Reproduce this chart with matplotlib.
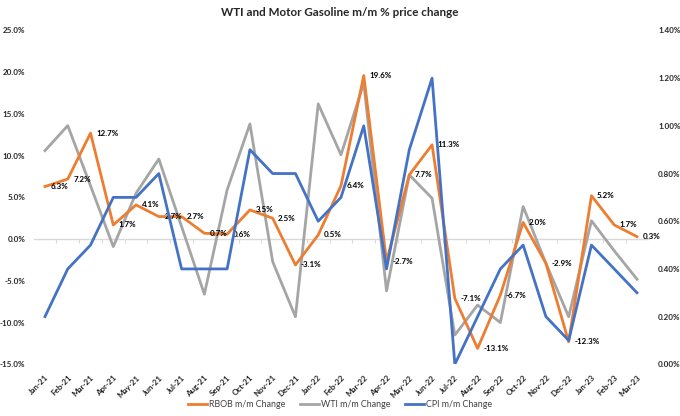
import matplotlib
matplotlib.use("Agg")
import matplotlib.pyplot as plt
from matplotlib.ticker import FuncFormatter, FixedLocator

plt.rcParams['font.family'] = ['Lato', 'DejaVu Sans']

# data
months = ["Jan-21", "Feb-21", "Mar-21", "Apr-21", "May-21", "Jun-21", "Jul-21", "Aug-21", "Sep-21",
          "Oct-21", "Nov-21", "Dec-21", "Jan-22", "Feb-22", "Mar-22", "Apr-22", "May-22", "Jun-22",
          "Jul-22", "Aug-22", "Sep-22", "Oct-22", "Nov-22", "Dec-22", "Jan-23", "Feb-23", "Mar-23"]
rbob = [6.3, 7.2, 12.7, 1.7, 4.1, 2.7, 2.7, 0.7, 0.6, 3.5, 2.5, -3.1, 0.5, 6.4, 19.6, -2.7, 7.7, 11.3,
        -7.1, -13.1, -6.7, 2.0, -2.9, -12.3, 5.2, 1.7, 0.3]
wti = [10.6, 13.6, 6.4, -0.9, 5.5, 9.6, 1.5, -6.6, 5.9, 13.8, -2.7, -9.3, 16.2, 10.1, 18.7, -6.2, 7.7, 4.9,
       -11.5, -7.9, -10.0, 3.9, -2.9, -9.3, 2.2, -1.4, -4.8]
cpi = [0.2, 0.4, 0.5, 0.7, 0.7, 0.8, 0.4, 0.4, 0.4, 0.9, 0.8, 0.8, 0.6, 0.7, 1.0, 0.4, 0.9, 1.2,
       0.0, 0.2, 0.4, 0.5, 0.2, 0.1, 0.5, 0.4, 0.3]

c_rbob = "#ED7D31"
c_wti = "#A5A5A5"
c_cpi = "#4472C4"
fs = 5.8

fig = plt.figure(figsize=(6.8, 4.16), dpi=100)
ax = fig.add_axes([0.0494, 0.1243, 0.9041, 0.8024])
ax2 = ax.twinx()

x = list(range(len(months)))
l1, = ax.plot(x, rbob, color=c_rbob, lw=2, label="RBOB m/m Change", zorder=3)
l2, = ax.plot(x, wti, color=c_wti, lw=2, label="WTI m/m Change", zorder=2)
l3, = ax2.plot(x, cpi, color=c_cpi, lw=2, label="CPI m/m Change")

for xi, v in zip(x, rbob):
    ax.annotate(f"{v:.1f}%", (xi, v), xytext=(4, 0), textcoords="offset points",
                ha="left", va="center", fontsize=fs, fontweight="bold", color="black", zorder=5)

ax.set_xlim(-0.5, len(months) - 0.5)
ax.set_ylim(-15, 25)
ax.set_yticks(range(-15, 26, 5))
ax.yaxis.set_major_formatter(FuncFormatter(lambda v, p: f"{v:.1f}%"))
ax2.set_ylim(0, 1.4)
ax2.set_yticks([0, 0.2, 0.4, 0.6, 0.8, 1.0, 1.2, 1.4])
ax2.yaxis.set_major_formatter(FuncFormatter(lambda v, p: f"{v:.2f}%"))

ax.set_xticks(x)
ax.set_xticklabels(months, rotation=45, ha="right", rotation_mode="anchor")
ax.tick_params(axis="x", length=0, pad=7, labelsize=fs)
ax.tick_params(axis="y", length=0, pad=6, labelsize=fs)
ax2.tick_params(axis="y", length=0, pad=7, labelsize=fs)
for lab in ax.get_xticklabels() + ax.get_yticklabels() + ax2.get_yticklabels():
    lab.set_fontweight("bold")
    lab.set_color("#262626")

for a in (ax, ax2):
    for s in a.spines.values():
        s.set_visible(False)

# horizontal axis line at 0 with small category-boundary ticks
zero_ax = ax.secondary_xaxis(15 / 40)
zero_ax.xaxis.set_major_locator(FixedLocator([i + 0.5 for i in range(len(months) - 1)]))
zero_ax.set_xticklabels([])
zero_ax.tick_params(axis="x", direction="out", length=3, color="#D9D9D9", width=0.8)
zero_ax.spines["bottom"].set_color("#D9D9D9")
zero_ax.spines["bottom"].set_linewidth(1)

fig.suptitle("WTI and Motor Gasoline m/m % price change", x=0.5, y=0.982,
             fontsize=8.4, fontweight="bold", color="#262626")

fig.legend(handles=[l1, l2, l3], loc="lower center", bbox_to_anchor=(0.5, -0.003), ncol=3,
           frameon=False, fontsize=6.4, handlelength=2.2, columnspacing=1.6, handletextpad=0.2,
           labelcolor="#404040")

fig.savefig("out.png", dpi=100)
